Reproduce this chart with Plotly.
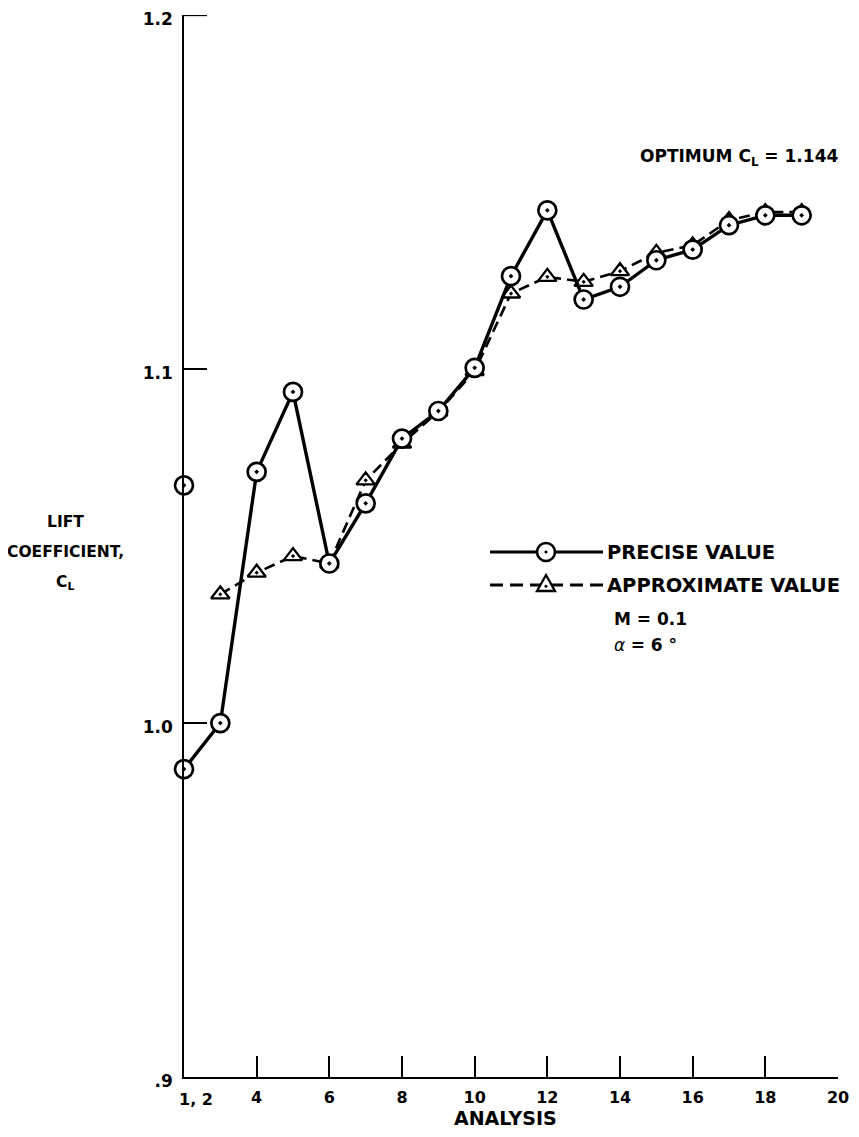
import plotly.graph_objects as go

# ---- data ----
analysis_precise = [2, 3, 4, 5, 6, 7, 8, 9, 10, 11, 12, 13, 14, 15, 16, 17, 18, 19]
cl_precise = [0.987, 1.000, 1.071, 1.0936, 1.0451, 1.0621, 1.0804, 1.0882, 1.1004,
              1.1263, 1.1449, 1.1197, 1.1233, 1.1308, 1.1338, 1.1407, 1.1435, 1.1435]
analysis_1_x = [2]
analysis_1_cl = [1.0672]

analysis_approx = [3, 4, 5, 6, 7, 8, 9, 10, 11, 12, 13, 14, 15, 16, 17, 18, 19]
cl_approx = [1.0364, 1.0425, 1.0472, 1.0451, 1.0686, 1.0790, 1.0880, 1.0995,
             1.1214, 1.1261, 1.1247, 1.1277, 1.1329, 1.1350, 1.1421, 1.1444, 1.1444]

x_tickvals = [4, 6, 8, 10, 12, 14, 16, 18, 20]
x_ticktext = ["4", "6", "8", "10", "12", "14", "16", "18", "20"]
y_tickvals = [0.9, 1.0, 1.1, 1.2]
y_ticktext = [".9", "1.0", "1.1", "1.2"]
y_top = 1.2

# ---- layout geometry (page pixels; the page body has an 8px margin) ----
OFF = 8
W, H = 859 - 2 * OFF, 1137 - 2 * OFF
PL, PR, PT, PB = 184, 838, 15, 1077          # plot area in page pixels
L, T = PL - OFF, PT - OFF
R, B = W - (PR - OFF), H - (PB - OFF)
PW, PH = W - L - R, H - T - B
Y_TICKLEN = 23


def fx(px):
    return (px - OFF - L) / PW


def fy(py):
    return 1 - (py - OFF - T) / PH


FONT = "DejaVu Sans, Verdana, sans-serif"

fig = go.Figure()

fig.add_trace(go.Scatter(
    x=analysis_approx, y=cl_approx, mode="lines+markers",
    line=dict(color="black", width=2.6, dash="11px,6px"),
    marker=dict(symbol="triangle-up-dot", size=16, color="white",
                line=dict(color="black", width=2.3)),
    showlegend=False, cliponaxis=False))

fig.add_trace(go.Scatter(
    x=analysis_precise, y=cl_precise, mode="lines+markers",
    line=dict(color="black", width=3.4),
    marker=dict(symbol="circle-dot", size=18, color="white",
                line=dict(color="black", width=2.7)),
    showlegend=False, cliponaxis=False))

fig.add_trace(go.Scatter(
    x=analysis_1_x, y=analysis_1_cl, mode="markers",
    marker=dict(symbol="circle-dot", size=18, color="white",
                line=dict(color="black", width=2.7)),
    showlegend=False, cliponaxis=False))

shapes = []
# top (1.2) tick of the y axis, which plotly drops at the very edge
shapes.append(dict(type="line", xref="paper", yref="y",
                   x0=0, x1=Y_TICKLEN / PW, y0=y_top, y1=y_top,
                   line=dict(color="black", width=1.6)))

# ---- manual legend ----
ly1, ly2 = 552, 585
cx = 546
shapes.append(dict(type="line", xref="paper", yref="paper",
                   x0=fx(490), x1=fx(603), y0=fy(ly1), y1=fy(ly1),
                   line=dict(color="black", width=3)))
r = 9
shapes.append(dict(type="circle", xref="paper", yref="paper",
                   x0=fx(cx - r), x1=fx(cx + r), y0=fy(ly1 + r), y1=fy(ly1 - r),
                   fillcolor="white", line=dict(color="black", width=2.6)))
shapes.append(dict(type="circle", xref="paper", yref="paper",
                   x0=fx(cx - 1.3), x1=fx(cx + 1.3), y0=fy(ly1 + 1.3), y1=fy(ly1 - 1.3),
                   fillcolor="black", line=dict(color="black", width=0.5)))
shapes.append(dict(type="line", xref="paper", yref="paper",
                   x0=fx(490), x1=fx(603), y0=fy(ly2), y1=fy(ly2),
                   line=dict(color="black", width=2.8, dash="13px,7px")))
tri = "M {},{} L {},{} L {},{} Z".format(
    fx(cx - 9), fy(ly2 + 6), fx(cx + 9), fy(ly2 + 6), fx(cx), fy(ly2 - 10))
shapes.append(dict(type="path", xref="paper", yref="paper", path=tri,
                   fillcolor="white", line=dict(color="black", width=2.3)))
shapes.append(dict(type="circle", xref="paper", yref="paper",
                   x0=fx(cx - 1.3), x1=fx(cx + 1.3), y0=fy(ly2 + 2.5), y1=fy(ly2),
                   fillcolor="black", line=dict(color="black", width=0.5)))


def ann(text, px, py, size, xanchor="left"):
    return dict(text=text, x=fx(px), y=fy(py), xref="paper", yref="paper",
                xanchor=xanchor, yanchor="middle", showarrow=False,
                font=dict(family=FONT, size=size, color="black"))


annotations = [
    ann("<b>PRECISE VALUE</b>", 605, ly1, 19.5),
    ann("<b>APPROXIMATE VALUE</b>", 605, ly2, 19.5),
    ann("<b>M = 0.1</b>", 612, 619, 17),
    ann("<i>α</i> <b>= 6 °</b>", 612, 645, 17),
    ann("<b>OPTIMUM C<sub>L</sub> = 1.144</b>", 638, 158, 17),
    ann("<b>LIFT</b>", 65, 522, 15.5, "center"),
    ann("<b>COEFFICIENT,</b>", 65, 552, 15.5, "center"),
    ann("<b>C<sub>L</sub></b>", 65, 583, 15.5, "center"),
    ann("<b>1, 2</b>", 177, 1099, 16),
    ann("<b>ANALYSIS</b>", 505, 1118, 19, "center"),
]

fig.update_layout(
    width=W, height=H,
    margin=dict(l=L, r=R, t=T, b=B, pad=0, autoexpand=False),
    paper_bgcolor="white", plot_bgcolor="white",
    font=dict(family=FONT, color="black"),
    shapes=shapes, annotations=annotations,
    showlegend=False,
    xaxis=dict(range=[2, 20.0001], showgrid=False, zeroline=False,
               automargin=False,
               showline=True, linecolor="black", linewidth=2,
               ticks="inside", ticklen=21, tickwidth=1.6, tickcolor="black",
               tickvals=x_tickvals, ticktext=x_ticktext,
               ticklabelstandoff=5, ticklabeloverflow="allow",
               tickfont=dict(family=FONT, size=16, color="black", weight="bold")),
    yaxis=dict(range=[0.9, 1.2001], showgrid=False, zeroline=False,
               automargin=False,
               showline=True, linecolor="black", linewidth=1.6,
               ticks="inside", ticklen=Y_TICKLEN, tickwidth=1.6, tickcolor="black",
               tickvals=y_tickvals, ticktext=y_ticktext,
               ticklabelstandoff=6, ticklabelshift=4, ticklabeloverflow="allow",
               tickfont=dict(family=FONT, size=17, color="black", weight="bold")),
)

fig.write_html("out.html")
